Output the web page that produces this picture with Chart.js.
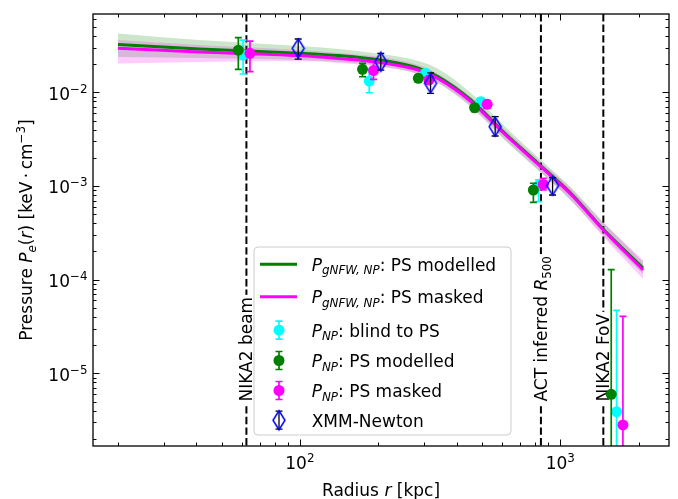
<!DOCTYPE html>
<html>
<head>
<meta charset="utf-8">
<script src="https://cdn.jsdelivr.net/npm/chart.js@4.4.1/dist/chart.umd.min.js"></script>
<style>
  html, body { margin: 0; padding: 0; background: #fff; }
  canvas { display: block; }
</style>
</head>
<body>
<canvas id="chart" width="678" height="499"></canvas>
<script>
// gNFW model curves (radius in kpc, pressure in keV cm^-3)
const modelRadius = [20.0, 41.1, 99.1, 141, 204, 285, 340, 454, 611, 819, 1095, 1464, 2081];
const gnfwModelled = [0.0325, 0.0290, 0.0262, 0.0247, 0.0221, 0.0181, 0.01467, 0.00828, 0.00368, 0.00176, 0.000842, 0.000345, 0.000133];
const gnfwModelledHi = [0.0424, 0.0361, 0.0312, 0.0290, 0.0256, 0.0216, 0.01774, 0.00983, 0.00437, 0.00204, 0.000976, 0.000413, 0.000155];
const gnfwModelledLo = [0.0238, 0.0232, 0.0221, 0.0211, 0.0191, 0.0157, 0.01257, 0.00697, 0.00310, 0.00148, 0.000709, 0.000300, 0.000115];
const gnfwMasked = [0.0295, 0.0269, 0.0247, 0.0230, 0.0208, 0.0173, 0.0140, 0.00798, 0.00359, 0.00172, 0.000822, 0.000339, 0.000127];
const gnfwMaskedHi = [0.0361, 0.0320, 0.0283, 0.0263, 0.0238, 0.01956, 0.0157, 0.00891, 0.00406, 0.00194, 0.000952, 0.000403, 0.000162];
const gnfwMaskedLo = [0.0203, 0.0211, 0.0216, 0.0206, 0.0186, 0.0157, 0.01257, 0.00714, 0.00318, 0.00152, 0.000709, 0.000286, 0.000102];

// non-parametric points
const blindRadius = [60.5, 184.6, 303.8, 494.8, 826, 1646];
const blindP = [0.0250, 0.0132, 0.0160, 0.00794, 0.00101, 3.89e-6];
const blindLo = [0.0157, 0.0099, 0.01476, 0.00723, 0.00068, 1e-7];
const blindHi = [0.0361, 0.01774, 0.0173, 0.00869, 0.00116, 4.70e-5];

const modelledRadius = [58.0, 174, 285, 469, 788.6, 1570];
const modelledP = [0.0282, 0.0176, 0.0141, 0.00685, 0.000906, 5.97e-6];
const modelledLo = [0.0176, 0.01467, 0.0129, 0.00621, 0.00067, 1e-7];
const modelledHi = [0.0383, 0.0204, 0.0155, 0.00755, 0.00107, 1.28e-4];

const maskedRadius = [64.3, 191.8, 313, 524, 861, 1741];
const maskedP = [0.0261, 0.0171, 0.0135, 0.00745, 0.00104, 2.81e-6];
const maskedLo = [0.0166, 0.01377, 0.01257, 0.0068, 0.000906, 1e-7];
const maskedHi = [0.0352, 0.0211, 0.01456, 0.00818, 0.00121, 4.06e-5];

const xmmRadius = [98.5, 204.5, 317.6, 562.4, 934.5];
const xmmP = [0.0295, 0.0212, 0.01248, 0.0043, 0.00101];
const xmmLo = [0.0226, 0.0173, 0.00976, 0.00342, 0.000801];
const xmmHi = [0.0371, 0.0261, 0.0161, 0.0055, 0.00123];

// vertical reference lines
const refRadius = [62.3, 843, 1464];
const refLabelP = 5e-6;

const xTicks = [100, 1000];
const yTicks = [1e-5, 1e-4, 1e-3, 1e-2];
const xRange = [16.04, 2617];
const yRange = [1.675e-6, 0.0686];

const FONT = '"DejaVu Sans", sans-serif';
const FS = 17;

// rich text segments: {t, it, sub, sup}
const gnfwSub = [{ t: 'P', it: true }, { t: 'gNFW, NP', it: true, sub: true }];
const npSub = [{ t: 'P', it: true }, { t: 'NP', it: true, sub: true }];
const legendRows = [
  { kind: 'line', color: '#008000', segs: gnfwSub.concat([{ t: ': PS modelled' }]) },
  { kind: 'line', color: '#ff00ff', segs: gnfwSub.concat([{ t: ': PS masked' }]) },
  { kind: 'dot', color: '#00ffff', segs: npSub.concat([{ t: ': blind to PS' }]) },
  { kind: 'dot', color: '#008000', segs: npSub.concat([{ t: ': PS modelled' }]) },
  { kind: 'dot', color: '#ff00ff', segs: npSub.concat([{ t: ': PS masked' }]) },
  { kind: 'xmm', color: '#0000ff', segs: [{ t: 'XMM-Newton' }] },
];
const refLabels = [
  [{ t: 'NIKA2 beam' }],
  [{ t: 'ACT inferred ' }, { t: 'R', it: true }, { t: '500', sub: true }],
  [{ t: 'NIKA2 FoV' }],
];

function setFont(ctx, size, italic) {
  ctx.font = (italic ? 'italic ' : '') + size + 'px ' + FONT;
}
function segSize(s, size) {
  return (s.sub || s.sup) ? size * 0.7 : size;
}
function richWidth(ctx, segs, size) {
  let w = 0;
  segs.forEach(s => { setFont(ctx, segSize(s, size), s.it); w += ctx.measureText(s.t).width; });
  return w;
}
function drawRich(ctx, segs, x, y, size) {
  ctx.textAlign = 'left';
  ctx.textBaseline = 'alphabetic';
  segs.forEach(s => {
    setFont(ctx, segSize(s, size), s.it);
    const dy = s.sub ? size * 0.22 : (s.sup ? -size * 0.42 : 0);
    ctx.fillText(s.t, x, y + dy);
    x += ctx.measureText(s.t).width;
  });
}

function makeDiamond() {
  const c = document.createElement('canvas');
  c.width = 16; c.height = 23;
  const g = c.getContext('2d');
  g.strokeStyle = '#0000ff';
  g.lineWidth = 1.5;
  g.beginPath();
  g.moveTo(8, 2); g.lineTo(14, 11.5); g.lineTo(8, 21); g.lineTo(2, 11.5);
  g.closePath();
  g.stroke();
  return c;
}
const diamond = makeDiamond();

function errLine(ctx, x, y1, y2, cap) {
  ctx.beginPath();
  ctx.moveTo(x, y1); ctx.lineTo(x, y2);
  ctx.moveTo(x - cap, y1); ctx.lineTo(x + cap, y1);
  ctx.moveTo(x - cap, y2); ctx.lineTo(x + cap, y2);
  ctx.stroke();
}

const pts = (xs, ys) => xs.map((x, i) => ({ x, y: ys[i] }));

const bandStyle = (color, fill) => ({
  borderWidth: 0, pointRadius: 0, backgroundColor: color,
  cubicInterpolationMode: 'monotone', fill,
});

const errorBars = {
  id: 'errorBars',
  beforeDatasetDraw(chart, args) {
    const ds = chart.data.datasets[args.index];
    if (!ds.errLo) return;
    const { ctx, chartArea: a } = chart;
    const xs = chart.scales.x, ys = chart.scales.y;
    ctx.save();
    ctx.beginPath();
    ctx.rect(a.left, a.top, a.right - a.left, a.bottom - a.top);
    ctx.clip();
    ctx.strokeStyle = ds.errColor;
    ctx.lineWidth = ds.errWidth;
    ds.data.forEach((p, i) => {
      errLine(ctx, xs.getPixelForValue(p.x), ys.getPixelForValue(ds.errLo[i]), ys.getPixelForValue(ds.errHi[i]), 3.5);
    });
    ctx.restore();
  },
};

const refLines = {
  id: 'refLines',
  beforeDatasetsDraw(chart) {
    const { ctx, chartArea: a } = chart;
    const xs = chart.scales.x, ys = chart.scales.y;
    ctx.save();
    ctx.strokeStyle = '#000';
    ctx.lineWidth = 2;
    ctx.setLineDash([7.4, 3.2]);
    refRadius.forEach(r => {
      const x = xs.getPixelForValue(r);
      ctx.beginPath();
      ctx.moveTo(x, a.top); ctx.lineTo(x, a.bottom);
      ctx.stroke();
    });
    ctx.setLineDash([]);
    const yb = ys.getPixelForValue(refLabelP);
    refRadius.forEach((r, i) => {
      const x = xs.getPixelForValue(r);
      const w = richWidth(ctx, refLabels[i], FS);
      ctx.save();
      ctx.translate(x, yb);
      ctx.rotate(-Math.PI / 2);
      ctx.fillStyle = '#fff';
      ctx.fillRect(-2, -8, w + 4, 16);
      ctx.fillStyle = '#000';
      drawRich(ctx, refLabels[i], 0, 6, FS);
      ctx.restore();
    });
    ctx.restore();
  },
};

const legendBox = {
  id: 'legendBox',
  afterDatasetsDraw(chart) {
    const ctx = chart.ctx;
    ctx.save();
    ctx.beginPath();
    ctx.roundRect(254, 247, 257, 188, 4);
    ctx.fillStyle = 'rgba(255,255,255,0.8)';
    ctx.fill();
    ctx.strokeStyle = '#cccccc';
    ctx.lineWidth = 1;
    ctx.stroke();
    const baselines = [270.7, 303.3, 336.7, 367, 397, 426.7];
    legendRows.forEach((row, i) => {
      const cy = baselines[i] - 6.5;
      if (row.kind === 'line') {
        ctx.strokeStyle = row.color;
        ctx.lineWidth = 3;
        ctx.beginPath();
        ctx.moveTo(260, cy); ctx.lineTo(297, cy);
        ctx.stroke();
      } else if (row.kind === 'dot') {
        ctx.strokeStyle = row.color;
        ctx.lineWidth = 1.7;
        errLine(ctx, 279, cy - 9, cy + 9, 3.5);
        ctx.fillStyle = row.color;
        ctx.beginPath();
        ctx.arc(279, cy, 5.5, 0, Math.PI * 2);
        ctx.fill();
      } else {
        ctx.strokeStyle = '#000';
        ctx.lineWidth = 1.3;
        errLine(ctx, 279, cy - 9, cy + 9, 3.5);
        ctx.drawImage(diamond, 279 - diamond.width / 2, cy - diamond.height / 2);
      }
      ctx.fillStyle = '#000';
      drawRich(ctx, row.segs, 311.7, baselines[i], FS);
    });
    ctx.restore();
  },
};

const axesFrame = {
  id: 'axesFrame',
  afterDraw(chart) {
    const { ctx, chartArea: a } = chart;
    const xs = chart.scales.x, ys = chart.scales.y;
    ctx.save();
    ctx.strokeStyle = '#000';
    ctx.lineWidth = 1;
    // inward ticks on all sides
    for (let k = 1; k <= 3; k++) {
      for (let m = 1; m <= 9; m++) {
        const v = m * Math.pow(10, k);
        if (v < xRange[0] || v > xRange[1]) continue;
        const x = Math.round(xs.getPixelForValue(v)) + 0.5;
        const len = m === 1 ? 6.5 : 3.5;
        ctx.beginPath();
        ctx.moveTo(x, a.bottom); ctx.lineTo(x, a.bottom - len);
        ctx.moveTo(x, a.top); ctx.lineTo(x, a.top + len);
        ctx.stroke();
      }
    }
    for (let k = -6; k <= -2; k++) {
      for (let m = 1; m <= 9; m++) {
        const v = m * Math.pow(10, k);
        if (v < yRange[0] || v > yRange[1]) continue;
        const y = Math.round(ys.getPixelForValue(v)) + 0.5;
        const len = m === 1 ? 6.5 : 3.5;
        ctx.beginPath();
        ctx.moveTo(a.left, y); ctx.lineTo(a.left + len, y);
        ctx.moveTo(a.right, y); ctx.lineTo(a.right - len, y);
        ctx.stroke();
      }
    }
    ctx.lineWidth = 1.3;
    ctx.strokeRect(a.left, a.top, a.right - a.left, a.bottom - a.top);

    // tick labels
    ctx.fillStyle = '#000';
    xTicks.forEach(v => {
      const segs = [{ t: '10' }, { t: String(Math.round(Math.log10(v))), sup: true }];
      const w = richWidth(ctx, segs, FS);
      drawRich(ctx, segs, xs.getPixelForValue(v) - w / 2, a.bottom + 23, FS);
    });
    yTicks.forEach(v => {
      const segs = [{ t: '10' }, { t: '\u2212' + Math.round(-Math.log10(v)), sup: true }];
      const w = richWidth(ctx, segs, FS);
      drawRich(ctx, segs, a.left - 5.5 - w, ys.getPixelForValue(v) + 7.5, FS);
    });

    // axis titles
    const xt = [{ t: 'Radius ' }, { t: 'r', it: true }, { t: ' [kpc]' }];
    const xw = richWidth(ctx, xt, FS);
    drawRich(ctx, xt, (a.left + a.right) / 2 - xw / 2, 495.5, FS);

    const yt = [{ t: 'Pressure ' }, { t: 'P', it: true }, { t: 'e', it: true, sub: true }, { t: '(' },
      { t: 'r', it: true }, { t: ') [keV\u2009\u00b7\u2009cm' }, { t: '\u22123', sup: true }, { t: ']' }];
    const yw = richWidth(ctx, yt, FS);
    ctx.translate(32, (a.top + a.bottom) / 2);
    ctx.rotate(-Math.PI / 2);
    drawRich(ctx, yt, -yw / 2, 0, FS);
    ctx.restore();
  },
};

new Chart(document.getElementById('chart'), {
  type: 'scatter',
  data: {
    datasets: [
      { type: 'line', data: pts(modelRadius, gnfwModelledHi), order: 20, ...bandStyle('rgba(0,128,0,0.2)', '+1') },
      { type: 'line', data: pts(modelRadius, gnfwModelledLo), order: 20, ...bandStyle('rgba(0,128,0,0.2)', false) },
      { type: 'line', data: pts(modelRadius, gnfwMaskedHi), order: 19, ...bandStyle('rgba(255,0,255,0.2)', '+1') },
      { type: 'line', data: pts(modelRadius, gnfwMaskedLo), order: 19, ...bandStyle('rgba(255,0,255,0.2)', false) },
      {
        type: 'line', data: pts(modelRadius, gnfwModelled), order: 18,
        borderColor: '#008000', borderWidth: 3, pointRadius: 0, cubicInterpolationMode: 'monotone', fill: false,
      },
      {
        type: 'line', data: pts(modelRadius, gnfwMasked), order: 17,
        borderColor: '#ff00ff', borderWidth: 3, pointRadius: 0, cubicInterpolationMode: 'monotone', fill: false,
      },
      {
        data: pts(blindRadius, blindP), order: 16, errLo: blindLo, errHi: blindHi, errColor: '#00ffff', errWidth: 1.7,
        backgroundColor: '#00ffff', borderWidth: 0, pointRadius: 5.5,
      },
      {
        data: pts(modelledRadius, modelledP), order: 15, errLo: modelledLo, errHi: modelledHi, errColor: '#008000', errWidth: 1.7,
        backgroundColor: '#008000', borderWidth: 0, pointRadius: 5.5,
      },
      {
        data: pts(maskedRadius, maskedP), order: 14, errLo: maskedLo, errHi: maskedHi, errColor: '#ff00ff', errWidth: 1.7,
        backgroundColor: '#ff00ff', borderWidth: 0, pointRadius: 5.5,
      },
      {
        data: pts(xmmRadius, xmmP), order: 13, errLo: xmmLo, errHi: xmmHi, errColor: '#000000', errWidth: 1.3,
        pointStyle: diamond, pointRadius: 8,
      },
    ],
  },
  options: {
    responsive: false,
    animation: false,
    devicePixelRatio: 1,
    layout: { padding: { left: 93, top: 14, right: 6, bottom: 53 } },
    scales: {
      x: { type: 'logarithmic', min: xRange[0], max: xRange[1], display: false },
      y: { type: 'logarithmic', min: yRange[0], max: yRange[1], display: false },
    },
    plugins: {
      legend: { display: false },
      tooltip: { enabled: false },
    },
  },
  plugins: [refLines, errorBars, legendBox, axesFrame],
});
</script>
</body>
</html>
